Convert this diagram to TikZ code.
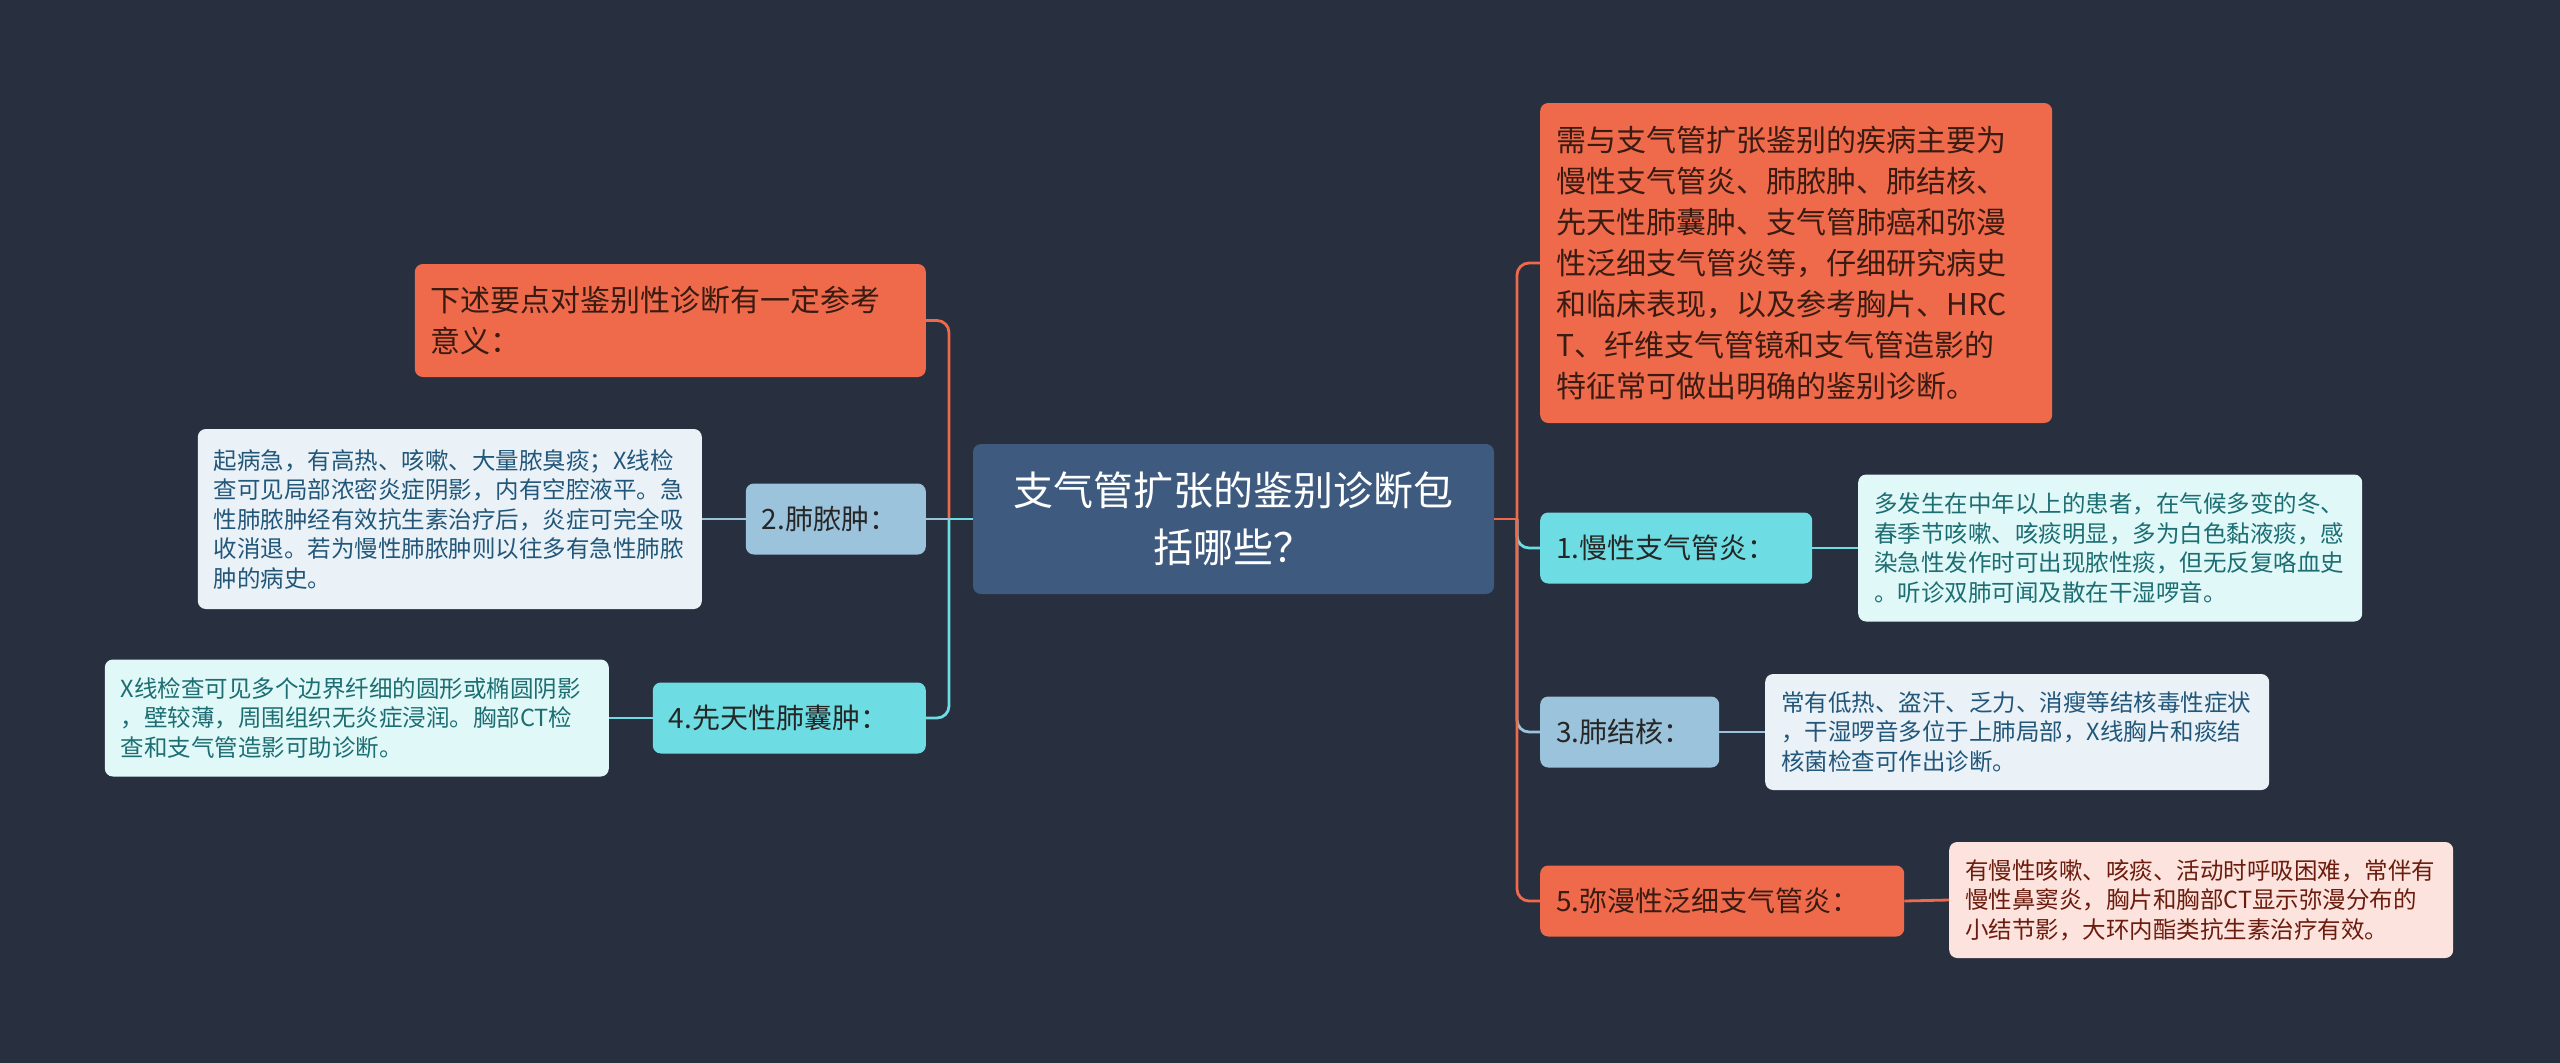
\documentclass[tikz,border=0pt]{standalone}
\usepackage{fontspec}
\setmainfont{Noto Sans CJK SC}
\usetikzlibrary{positioning}

\definecolor{bgc}{HTML}{282F3E}
\definecolor{rootc}{HTML}{3E5B7F}
\definecolor{orangec}{HTML}{EE6A4B}
\definecolor{orangetxt}{HTML}{3A1B12}
\definecolor{cyanc}{HTML}{6EDDE3}
\definecolor{bluec}{HTML}{9CC3DC}
\definecolor{cyanleafc}{HTML}{E1F8F8}
\definecolor{cyanleaftxt}{HTML}{1C6E73}
\definecolor{blueleafc}{HTML}{EAF2F8}
\definecolor{blueleaftxt}{HTML}{22577A}
\definecolor{orangeleafc}{HTML}{FDE3DD}
\definecolor{orangeleaftxt}{HTML}{6B1C0E}

\begin{document}
\begin{tikzpicture}[x=1pt,y=-1pt,
  box/.style={rounded corners=8pt, inner xsep=16pt, inner ysep=4pt, align=left},
  rootbox/.style={box, fill=rootc, text=white, align=center, font=\fontsize{40}{57}\selectfont},
  introbox/.style={box, fill=orangec, text=orangetxt, font=\fontsize{30}{41}\selectfont},
  branch/.style={box, text=black!85, font=\fontsize{28}{34}\selectfont, minimum height=71pt},
  leaf/.style={box, font=\fontsize{23.5}{29.5}\selectfont, text width=472pt},
  cline/.style={line width=2.8pt, rounded corners=12pt},
]
\useasboundingbox (0,0) rectangle (2560,1063);
\fill[bgc] (0,0) rectangle (2560,1063);

% Root Node
\node[rootbox, text width=489pt, minimum height=150pt] (root) at (1233.5,519) {支气管扩张的鉴别诊断包\\括哪些？};
\coordinate (rtrunk) at (1517,519);
\coordinate (ltrunk) at (949,519);

%right side
% Text Node
\node[introbox, anchor=west, text width=480pt, minimum height=320pt] (rintro) at (1540,263) {需与支气管扩张鉴别的疾病主要为\\慢性支气管炎、肺脓肿、肺结核、\\先天性肺囊肿、支气管肺癌和弥漫\\性泛细支气管炎等，仔细研究病史\\和临床表现，以及参考胸片、HRC\\T、纤维支气管镜和支气管造影的\\特征常可做出明确的鉴别诊断。};
% Text Node
\node[branch, fill=cyanc, anchor=west, text width=240pt] (chronic) at (1540,548) {1.慢性支气管炎：};
\node[leaf, fill=cyanleafc, text=cyanleaftxt, anchor=west, minimum height=147pt] (chronicleaf) at (1858,548) {多发生在中年以上的患者，在气候多变的冬、\\春季节咳嗽、咳痰明显，多为白色黏液痰，感\\染急性发作时可出现脓性痰，但无反复咯血史\\。听诊双肺可闻及散在干湿啰音。};
% Text Node
\node[branch, fill=bluec, anchor=west, text width=147pt] (tuber) at (1540,732) {3.肺结核：};
\node[leaf, fill=blueleafc, text=blueleaftxt, anchor=west, minimum height=116pt] (tuberleaf) at (1765,732) {常有低热、盗汗、乏力、消瘦等结核毒性症状\\，干湿啰音多位于上肺局部，X线胸片和痰结\\核菌检查可作出诊断。};
% Text Node
\node[branch, fill=orangec, text=orangetxt, anchor=west, text width=332pt] (diffuse) at (1540,901) {5.弥漫性泛细支气管炎：};
\node[leaf, fill=orangeleafc, text=orangeleaftxt, anchor=west, minimum height=116pt] (diffuseleaf) at (1949,900) {有慢性咳嗽、咳痰、活动时呼吸困难，常伴有\\慢性鼻窦炎，胸片和胸部CT显示弥漫分布的\\小结节影，大环内酯类抗生素治疗有效。};

%left side
% Text Node
\node[introbox, anchor=east, text width=479pt, minimum height=113pt] (lintro) at (926,320.5) {下述要点对鉴别性诊断有一定参考\\意义：};
% Text Node
\node[branch, fill=bluec, anchor=east, text width=148pt] (abscess) at (926,519) {2.肺脓肿：};
\node[leaf, fill=blueleafc, text=blueleaftxt, anchor=east, minimum height=180pt] (abscessleaf) at (702,519) {起病急，有高热、咳嗽、大量脓臭痰；X线检\\查可见局部浓密炎症阴影，内有空腔液平。急\\性肺脓肿经有效抗生素治疗后，炎症可完全吸\\收消退。若为慢性肺脓肿则以往多有急性肺脓\\肿的病史。};
% Text Node
\node[branch, fill=cyanc, anchor=east, text width=241pt] (cyst) at (926,718) {4.先天性肺囊肿：};
\node[leaf, fill=cyanleafc, text=cyanleaftxt, anchor=east, minimum height=117pt] (cystleaf) at (609,718) {X线检查可见多个边界纤细的圆形或椭圆阴影\\，壁较薄，周围组织无炎症浸润。胸部CT检\\查和支气管造影可助诊断。};

%Connectors right
\draw[cline, cyanc] (rtrunk) |- (chronic.west);
\draw[cline, bluec] (rtrunk) |- (tuber.west);
\draw[cline, orangec] (rtrunk) |- (rintro.west);
\draw[cline, orangec] (rtrunk) |- (diffuse.west);
\draw[cline, orangec] (root.east) -- (rtrunk);
\draw[cline, cyanc] (chronic.east) -- (chronicleaf.west);
\draw[cline, bluec] (tuber.east) -- (tuberleaf.west);
\draw[cline, orangec] (diffuse.east) -- (diffuseleaf.west);

%Connectors left
\draw[cline, orangec] (ltrunk) |- (lintro.east);
\draw[cline, bluec] (ltrunk) -- (abscess.east);
\draw[cline, cyanc] (ltrunk) |- (cyst.east);
\draw[cline, cyanc] (root.west) -- (ltrunk);
\draw[cline, bluec] (abscess.west) -- (abscessleaf.east);
\draw[cline, cyanc] (cyst.west) -- (cystleaf.east);
\end{tikzpicture}
\end{document}
